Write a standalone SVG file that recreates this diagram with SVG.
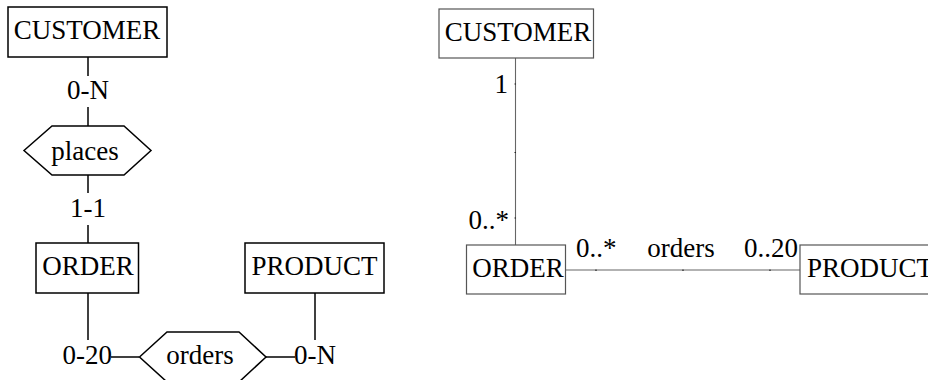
<svg xmlns="http://www.w3.org/2000/svg" width="928" height="380" viewBox="0 0 928 380" font-family="Liberation Serif, Times New Roman, serif" font-size="27">
<style>
.c{text-anchor:middle}
.e{text-anchor:end}
.s{text-anchor:start}
.L{fill:#fff;stroke:#000;stroke-width:1.5}
.ln{stroke:#000;stroke-width:1.5;fill:none}
.R{fill:#fff;stroke:#555;stroke-width:1.2}
.rl{stroke:#666;stroke-width:1.1;fill:none}
.tk{stroke:#222;stroke-width:1.2;fill:none}
</style>
<g id="connectors">
<line class="ln" x1="88" y1="57" x2="88" y2="76"/>
<line class="ln" x1="88" y1="107" x2="88" y2="126"/>
<line class="ln" x1="88" y1="175" x2="88" y2="193"/>
<line class="ln" x1="88" y1="225" x2="88" y2="243"/>
<line class="ln" x1="88" y1="293" x2="88" y2="340"/>
<line class="ln" x1="111" y1="357" x2="139" y2="357"/>
<line class="ln" x1="315" y1="293" x2="315" y2="340"/>
<line class="ln" x1="266" y1="357" x2="295" y2="357"/>
<text class="c" x="88" y="99">0-N</text>
<text class="c" x="88" y="217">1-1</text>
<text class="e" x="112" y="364">0-20</text>
<text class="s" x="294" y="364">0-N</text>
<line class="rl" x1="515.5" y1="58" x2="515.5" y2="245"/>
<line class="tk" x1="514.5" y1="84" x2="516" y2="84"/>
<line class="tk" x1="514.5" y1="152.5" x2="516" y2="152.5"/>
<line class="tk" x1="514.5" y1="218" x2="516" y2="218"/>
<line class="rl" x1="566" y1="270" x2="800" y2="270"/>
<line class="tk" x1="596" y1="269.5" x2="596" y2="271"/>
<line class="tk" x1="683" y1="269.5" x2="683" y2="271"/>
<line class="tk" x1="770" y1="269.5" x2="770" y2="271"/>
<text class="e" x="508" y="93">1</text>
<text class="e" x="509" y="229">0..*</text>
<text class="s" x="576" y="257">0..*</text>
<text class="c" x="681" y="257">orders</text>
<text class="e" x="798" y="257">0..20</text>
</g>
<g id="customer-er">
<rect class="L" x="8" y="7" width="159" height="50"/>
<text class="c" x="87" y="39">CUSTOMER</text>
</g>
<g id="places">
<polygon class="L" points="24,150.5 52,126 124,126 151,150.5 124,175 52,175"/>
<text class="c" x="85" y="160">places</text>
</g>
<g id="order-er">
<rect class="L" x="36" y="243" width="102.5" height="50"/>
<text class="c" x="88" y="275">ORDER</text>
</g>
<g id="product-er">
<rect class="L" x="245" y="243" width="139" height="50"/>
<text class="c" x="314.5" y="275">PRODUCT</text>
</g>
<g id="orders-er">
<polygon class="L" points="139.5,357 167,332 239,332 266,357 239,382 167,382"/>
<text class="c" x="200" y="364">orders</text>
</g>
<g id="customer-uml">
<rect class="R" x="439" y="9" width="154.5" height="49"/>
<text class="c" x="518" y="41">CUSTOMER</text>
</g>
<g id="order-uml">
<rect class="R" x="466.5" y="245" width="99" height="49"/>
<text class="c" x="518" y="277">ORDER</text>
</g>
<g id="product-uml">
<rect class="R" x="800" y="245" width="140" height="49"/>
<text class="s" x="807" y="277">PRODUCT</text>
</g>
</svg>
